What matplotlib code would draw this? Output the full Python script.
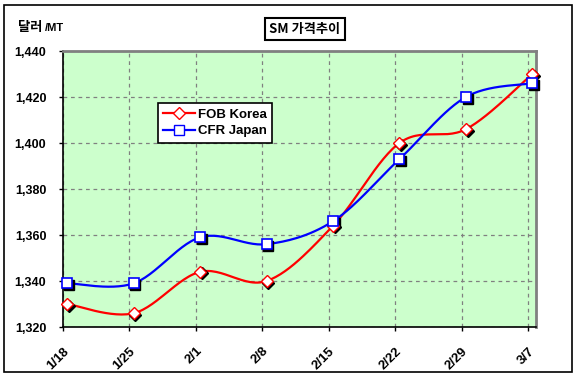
import numpy as np
import matplotlib
matplotlib.use("Agg")
import matplotlib.pyplot as plt
from matplotlib.transforms import ScaledTranslation
from matplotlib.lines import Line2D
from matplotlib.patches import Rectangle

dates = ["1/18", "1/25", "2/1", "2/8", "2/15", "2/22", "2/29", "3/7"]
fob_korea = [1330, 1326, 1344, 1340, 1364, 1400, 1406, 1430]
cfr_japan = [1339, 1339, 1359, 1356, 1366, 1393, 1420, 1426]
y_ticks = [1320, 1340, 1360, 1380, 1400, 1420, 1440]
y_labels = ["1,320", "1,340", "1,360", "1,380", "1,400", "1,420", "1,440"]

plt.rcParams['font.family'] = ['Liberation Sans', 'Noto Sans CJK KR', 'DejaVu Sans']

def smooth(x, y, n=30):
    # Excel-like smoothed line (Catmull-Rom Bezier)
    x = np.asarray(x, float); y = np.asarray(y, float)
    xs, ys = [], []
    for i in range(len(x) - 1):
        p0 = np.array([x[max(i-1, 0)], y[max(i-1, 0)]])
        p1 = np.array([x[i], y[i]])
        p2 = np.array([x[i+1], y[i+1]])
        p3 = np.array([x[min(i+2, len(x)-1)], y[min(i+2, len(x)-1)]])
        c1 = p1 + (p2 - p0) / 6.0
        c2 = p2 - (p3 - p1) / 6.0
        t = np.linspace(0, 1, n)[:, None]
        pts = ((1-t)**3)*p1 + 3*((1-t)**2)*t*c1 + 3*(1-t)*t**2*c2 + t**3*p2
        xs.extend(pts[:, 0]); ys.extend(pts[:, 1])
    return np.array(xs), np.array(ys)

fig = plt.figure(figsize=(5.78, 3.77), dpi=100)
W, H = 578, 377
fig.patches.append(Rectangle((4/W, 5/H), 568/W, 367/H, transform=fig.transFigure,
                             fill=False, edgecolor='black', linewidth=1.2))

ax = fig.add_axes([63/W, 1-327/H, (536-63)/W, (327-51)/H])
ax.set_facecolor('#CCFFCC')

xpos = np.arange(len(dates)) + 0.065
ax.set_xlim(0, 7.12)
ax.set_ylim(1320, 1440)

ax.set_xticks(np.arange(len(dates)))
ax.set_xticklabels(dates, rotation=45, ha='right', rotation_mode='anchor',
                   fontsize=9.5, fontweight='bold')
ax.set_yticks(y_ticks)
ax.set_yticklabels(y_labels, fontsize=9, fontweight='bold')
ax.tick_params(axis='both', length=3, width=1, direction='out')
ax.tick_params(axis='x', pad=10)
ax.tick_params(axis='y', pad=9)

ax.grid(True, color='#808080', linestyle=(0, (3, 3)), linewidth=0.9)
ax.set_axisbelow(True)

for s in ['top', 'right']:
    ax.spines[s].set_color('#808080')
    ax.spines[s].set_linewidth(2)
for s in ['left', 'bottom']:
    ax.spines[s].set_color('black')
    ax.spines[s].set_linewidth(1.2)

sx, sy = smooth(xpos, fob_korea)
ax.plot(sx, sy, color='red', lw=1.6, zorder=3)
sx, sy = smooth(xpos, cfr_japan)
ax.plot(sx, sy, color='blue', lw=1.6, zorder=3)

shadow = ax.transData + ScaledTranslation(1.2/72, -1.2/72, fig.dpi_scale_trans)
ax.plot(xpos, fob_korea, ls='none', marker='D', ms=6, mfc='black', mec='black',
        transform=shadow, zorder=4, clip_on=False)
ax.plot(xpos, cfr_japan, ls='none', marker='s', ms=7, mfc='black', mec='black',
        transform=shadow, zorder=4, clip_on=False)
ax.plot(xpos, fob_korea, ls='none', marker='D', ms=6, mfc='white', mec='red',
        mew=1, zorder=5, clip_on=False)
ax.plot(xpos, cfr_japan, ls='none', marker='s', ms=7, mfc='white', mec='blue',
        mew=1.2, zorder=5, clip_on=False)

handles = [Line2D([], [], color='red', lw=1.6, marker='D', ms=6, mfc='white', mec='red'),
           Line2D([], [], color='blue', lw=1.6, marker='s', ms=7, mfc='white', mec='blue')]
leg = ax.legend(handles, ['FOB Korea', 'CFR Japan'], loc='upper left',
                bbox_to_anchor=((158-63)/(536-63), 1-(103-51)/(327-51)),
                prop={'weight': 'bold', 'size': 9.5}, frameon=True, fancybox=False,
                edgecolor='black', framealpha=1, borderpad=0.4, handlelength=2.4,
                handletextpad=0.2, labelspacing=0.35, borderaxespad=0)
leg.get_frame().set_linewidth(1.2)

fig.text(305/W, 1-29/H, 'SM 가격추이', ha='center', va='center', fontsize=9.5,
         fontweight='bold', family=['Noto Sans CJK KR', 'DejaVu Sans'],
         bbox=dict(boxstyle='square,pad=0.3', facecolor='white', edgecolor='black', linewidth=1.5))
fig.text(18/W, 1-27/H, '달러', ha='left', va='center', fontsize=9.5, fontweight='bold',
         family=['Noto Sans CJK KR', 'DejaVu Sans'])
fig.text(45/W, 1-28/H, '/MT', ha='left', va='center', fontsize=8, fontweight='bold')

fig.savefig('out.png', dpi=100)
